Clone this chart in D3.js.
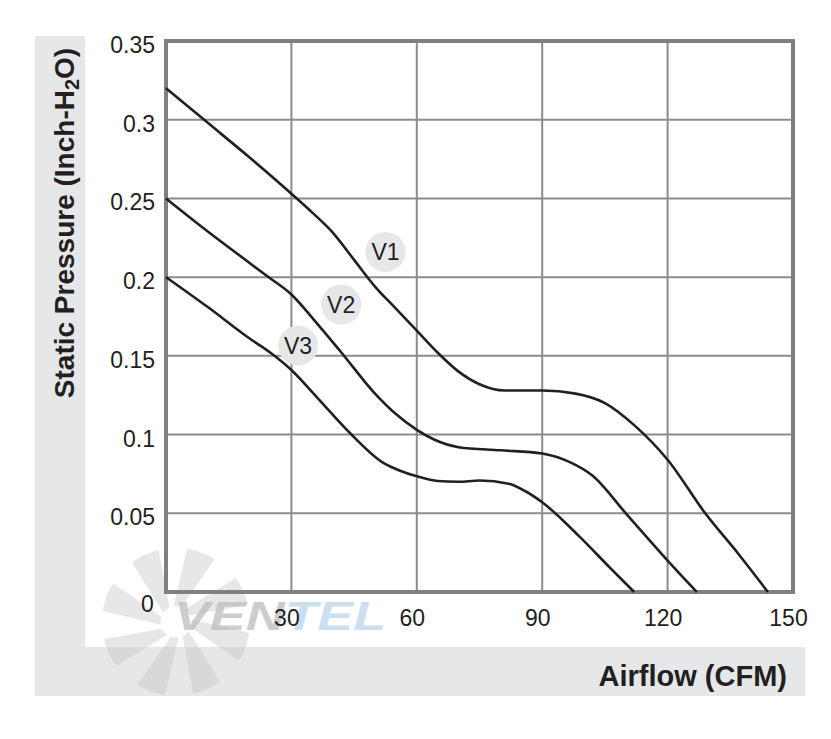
<!DOCTYPE html>
<html>
<head>
<meta charset="utf-8">
<script src="https://cdn.jsdelivr.net/npm/d3@7"></script>
<style>
  body { margin: 0; background: #fff; }
  text { font-family: "Liberation Sans", Arial, sans-serif; }
</style>
</head>
<body>
<div id="chart"></div>
<script>
// airflow (CFM) / static pressure (inch H2O)
const v1Flow = [0, 10, 20, 30, 35, 40, 45, 50, 55, 60, 65, 70, 75, 81, 90, 98, 105, 112, 120, 129, 137, 144]
const v1Pres = [0.32, 0.298, 0.276, 0.253, 0.241, 0.228, 0.211, 0.194, 0.180, 0.166, 0.152, 0.140, 0.132, 0.128, 0.128, 0.126, 0.12, 0.106, 0.084, 0.05, 0.024, 0]
const v2Flow = [0, 10, 20, 24, 30, 36, 42, 50, 55, 60, 64, 70, 80, 90, 97, 102, 110, 120, 127]
const v2Pres = [0.25, 0.229, 0.209, 0.201, 0.189, 0.171, 0.152, 0.126, 0.113, 0.103, 0.097, 0.092, 0.090, 0.088, 0.082, 0.074, 0.05, 0.02, 0]
const v3Flow = [0, 10, 20, 25, 30, 36, 44, 52, 56, 60, 65, 70, 75, 82, 86, 90, 99, 106, 112]
const v3Pres = [0.2, 0.181, 0.161, 0.152, 0.141, 0.124, 0.101, 0.082, 0.077, 0.0735, 0.0705, 0.070, 0.0708, 0.0688, 0.064, 0.057, 0.035, 0.016, 0]

const xTicks = [0, 30, 60, 90, 120, 150]
const yTicks = [0.05, 0.1, 0.15, 0.2, 0.25, 0.3, 0.35]
const yTickLabels = ["0.05", "0.1", "0.15", "0.2", "0.25", "0.3", "0.35"]
const seriesNames = ["V1", "V2", "V3"]
// label bubble positions in data units
const labelFlow = [52.5, 41.9, 31.6]
const labelPres = [0.216, 0.1826, 0.1565]

const W = 831, H = 739
const svg = d3.select("#chart").append("svg").attr("width", W).attr("height", H)

// grey L-shaped frame
svg.append("rect").attr("x", 35).attr("y", 36).attr("width", 770).attr("height", 660).attr("fill", "#e6e7e8")
svg.append("rect").attr("x", 85).attr("y", 0).attr("width", W - 85).attr("height", 647).attr("fill", "#fff")

const x = d3.scaleLinear().domain([0, 150]).range([166, 793])
const y = d3.scaleLinear().domain([0, 0.35]).range([592, 41])

// faint watermark
const wm = svg.append("g").attr("opacity", 0.4)
const cx = 176, cy = 622
d3.range(8).forEach(i => {
  const a0 = i * Math.PI / 4 - 0.15, a1 = a0 + 0.5
  const r0 = 16, r1 = 74
  const p = d3.path()
  p.moveTo(cx + r0 * Math.cos(a0), cy + r0 * Math.sin(a0))
  p.lineTo(cx + r1 * Math.cos(a0 + 0.3), cy + r1 * Math.sin(a0 + 0.3))
  p.arc(cx, cy, r1, a0 + 0.3, a1 + 0.2)
  p.lineTo(cx + r0 * Math.cos(a1), cy + r0 * Math.sin(a1))
  p.closePath()
  wm.append("path").attr("d", p.toString()).attr("fill", "#c4c4c4")
})
const wmText = svg.append("text").attr("x", 174).attr("y", 630)
  .attr("font-size", 40).attr("font-weight", "bold").attr("font-style", "italic")
  .attr("textLength", 212).attr("lengthAdjust", "spacingAndGlyphs").attr("opacity", 0.75)
wmText.append("tspan").attr("fill", "#bdbdbd").text("VEN")
wmText.append("tspan").attr("fill", "#b9d6ec").text("TEL")

// grid
svg.append("g").selectAll("line").data(xTicks.slice(1, -1)).join("line")
  .attr("x1", d => x(d)).attr("x2", d => x(d)).attr("y1", y(0)).attr("y2", y(0.35))
  .attr("stroke", "#8c8c8c").attr("stroke-width", 2)
svg.append("g").selectAll("line").data(yTicks.slice(0, -1)).join("line")
  .attr("x1", x(0)).attr("x2", x(150)).attr("y1", d => y(d)).attr("y2", d => y(d))
  .attr("stroke", "#8c8c8c").attr("stroke-width", 2)
svg.append("rect").attr("x", x(0)).attr("y", y(0.35))
  .attr("width", x(150) - x(0)).attr("height", y(0) - y(0.35))
  .attr("fill", "none").attr("stroke", "#808080").attr("stroke-width", 4)

// axes (labels only)
const yAxis = svg.append("g").attr("transform", `translate(${x(0)},0)`)
  .call(d3.axisLeft(y).tickValues(yTicks).tickSize(0).tickPadding(11)
    .tickFormat((d, i) => yTickLabels[i]))
yAxis.select(".domain").remove()
yAxis.selectAll("text").attr("font-size", 23).attr("fill", "#231f20")
  .attr("font-family", "Liberation Sans, Arial, sans-serif").attr("dy", "0.5em")

const xAxis = svg.append("g").attr("transform", `translate(0,${y(0)})`)
  .call(d3.axisBottom(x).tickValues(xTicks).tickSize(0).tickPadding(0))
xAxis.select(".domain").remove()
xAxis.selectAll("text").attr("font-size", 23).attr("fill", "#231f20")
  .attr("font-family", "Liberation Sans, Arial, sans-serif")
  .attr("dy", 34).attr("dx", -5)
xAxis.selectAll(".tick").filter(d => d === 0).select("text")
  .attr("dx", -19).attr("dy", 20)

// curves
const line = d3.line().x(d => x(d[0])).y(d => y(d[1])).curve(d3.curveMonotoneX)
const series = [
  d3.zip(v1Flow, v1Pres),
  d3.zip(v2Flow, v2Pres),
  d3.zip(v3Flow, v3Pres)
]
svg.append("g").selectAll("path").data(series).join("path")
  .attr("d", line).attr("fill", "none").attr("stroke", "#231f20").attr("stroke-width", 2.6)

// series labels
const lab = svg.append("g").selectAll("g").data(seriesNames).join("g")
  .attr("transform", (d, i) => `translate(${x(labelFlow[i])},${y(labelPres[i])})`)
lab.append("circle").attr("r", 20).attr("fill", "#e6e7e8")
lab.append("text").attr("text-anchor", "middle").attr("dy", "0.36em")
  .attr("font-size", 23).attr("fill", "#231f20").text(d => d)

// titles
const yt = svg.append("text").attr("transform", "translate(74,223) rotate(-90)")
  .attr("text-anchor", "middle").attr("font-size", 28).attr("font-weight", "bold").attr("fill", "#231f20")
yt.append("tspan").text("Static Pressure (Inch-H")
yt.append("tspan").attr("font-size", 20).attr("dy", 5).text("2")
yt.append("tspan").attr("dy", -5).text("O)")

svg.append("text").attr("x", 787).attr("y", 686).attr("text-anchor", "end")
  .attr("font-size", 29).attr("font-weight", "bold").attr("fill", "#231f20")
  .text("Airflow (CFM)")
</script>
</body>
</html>
